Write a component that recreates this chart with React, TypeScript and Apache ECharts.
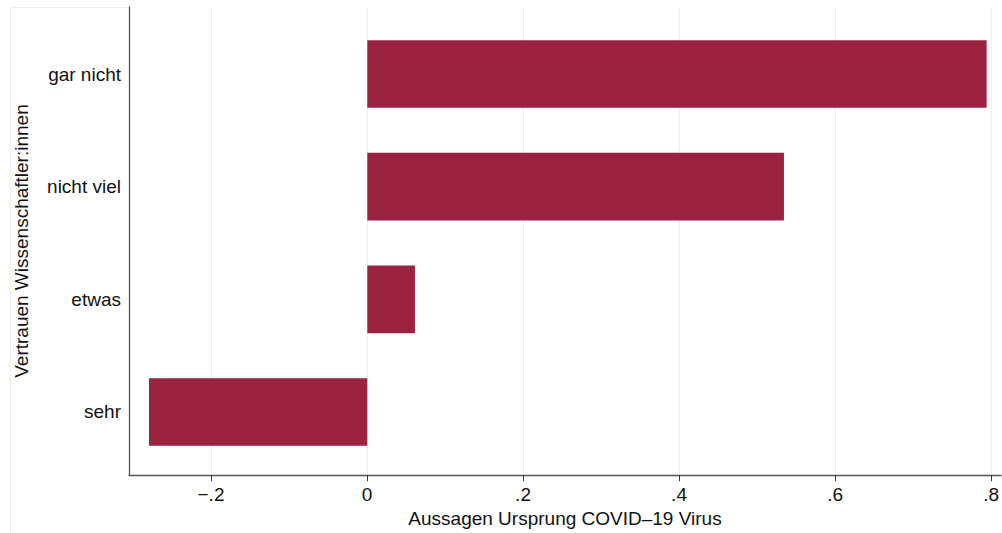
import React, { useEffect, useRef } from "react";
import * as echarts from "echarts";

const categories = ["sehr", "etwas", "nicht viel", "gar nicht"];
const values = [-0.2795, 0.061, 0.5335, 0.793];
const tickValues = [-0.2, 0, 0.2, 0.4, 0.6, 0.8];
const tickLabels = ["−.2", "0", ".2", ".4", ".6", ".8"];
const xTitle = "Aussagen Ursprung COVID–19 Virus";
const yTitle = "Vertrauen Wissenschaftler:innen";

const X_MIN = -0.3051;
const X_MAX = 0.8127;
const FONT = "'Liberation Sans', Arial, Helvetica, sans-serif";
const BAR_COLOR = "#9b2341";
const GRID_COLOR = "#e9eff1";

export default function App() {
  const ref = useRef<HTMLDivElement>(null);

  useEffect(() => {
    document.body.style.margin = "0";
    if (!ref.current) return;
    const chart = echarts.init(ref.current, undefined, { renderer: "svg" });
    const labelFor = (v: number) => {
      const i = tickValues.findIndex((t) => Math.abs(t - v) < 1e-6);
      return i >= 0 ? tickLabels[i] : "";
    };
    chart.setOption({
      animation: false,
      backgroundColor: "#ffffff",
      textStyle: { fontFamily: FONT },
      graphic: [
        {
          type: "polyline",
          shape: { points: [[10.5, 533], [10.5, 7.5], [129, 7.5]] },
          style: { stroke: GRID_COLOR, lineWidth: 1, fill: "none" },
          silent: true,
        },
      ],
      grid: [
        { left: 129, right: 0, top: 17.67, bottom: 64.67, containLabel: false },
        { left: 129, right: 0, top: 7, bottom: 54, containLabel: false },
      ],
      xAxis: [
        { type: "value", gridIndex: 0, min: X_MIN, max: X_MAX, show: false },
        {
          type: "value",
          gridIndex: 1,
          min: X_MIN,
          max: X_MAX,
          axisLine: { show: true, onZero: false, lineStyle: { color: "#555555", width: 1.3 } },
          axisTick: {
            show: true,
            length: 6,
            customValues: tickValues,
            lineStyle: { color: "#333333", width: 1 },
          },
          axisLabel: {
            customValues: tickValues,
            formatter: (v: number) => labelFor(v),
            fontSize: 19,
            fontFamily: FONT,
            color: "#111111",
            margin: 10,
          },
          splitLine: { show: true, lineStyle: { color: GRID_COLOR, width: 1 } },
          name: xTitle,
          nameLocation: "middle",
          nameGap: 32,
          nameTextStyle: { fontSize: 19, fontFamily: FONT, color: "#111111" },
        },
      ],
      yAxis: [
        {
          type: "category",
          gridIndex: 0,
          data: categories,
          axisLine: { show: false },
          axisTick: { show: false },
          splitLine: { show: false },
          axisLabel: {
            fontSize: 19,
            fontFamily: FONT,
            color: "#111111",
            margin: 8,
          },
        },
        {
          type: "value",
          gridIndex: 1,
          min: 0,
          max: 1,
          axisLine: { show: true, onZero: false, lineStyle: { color: "#555555", width: 1.3 } },
          axisTick: { show: false },
          axisLabel: { show: false },
          splitLine: { show: false },
          name: yTitle,
          nameLocation: "middle",
          nameRotate: 90,
          nameGap: 98,
          nameTextStyle: { fontSize: 19, fontFamily: FONT, color: "#111111" },
        },
      ],
      series: [
        {
          type: "bar",
          xAxisIndex: 0,
          yAxisIndex: 0,
          data: values,
          barWidth: "60%",
          itemStyle: { color: BAR_COLOR },
          silent: true,
        },
      ],
    });
    return () => chart.dispose();
  }, []);

  return <div ref={ref} style={{ width: 1002, height: 533 }} />;
}
